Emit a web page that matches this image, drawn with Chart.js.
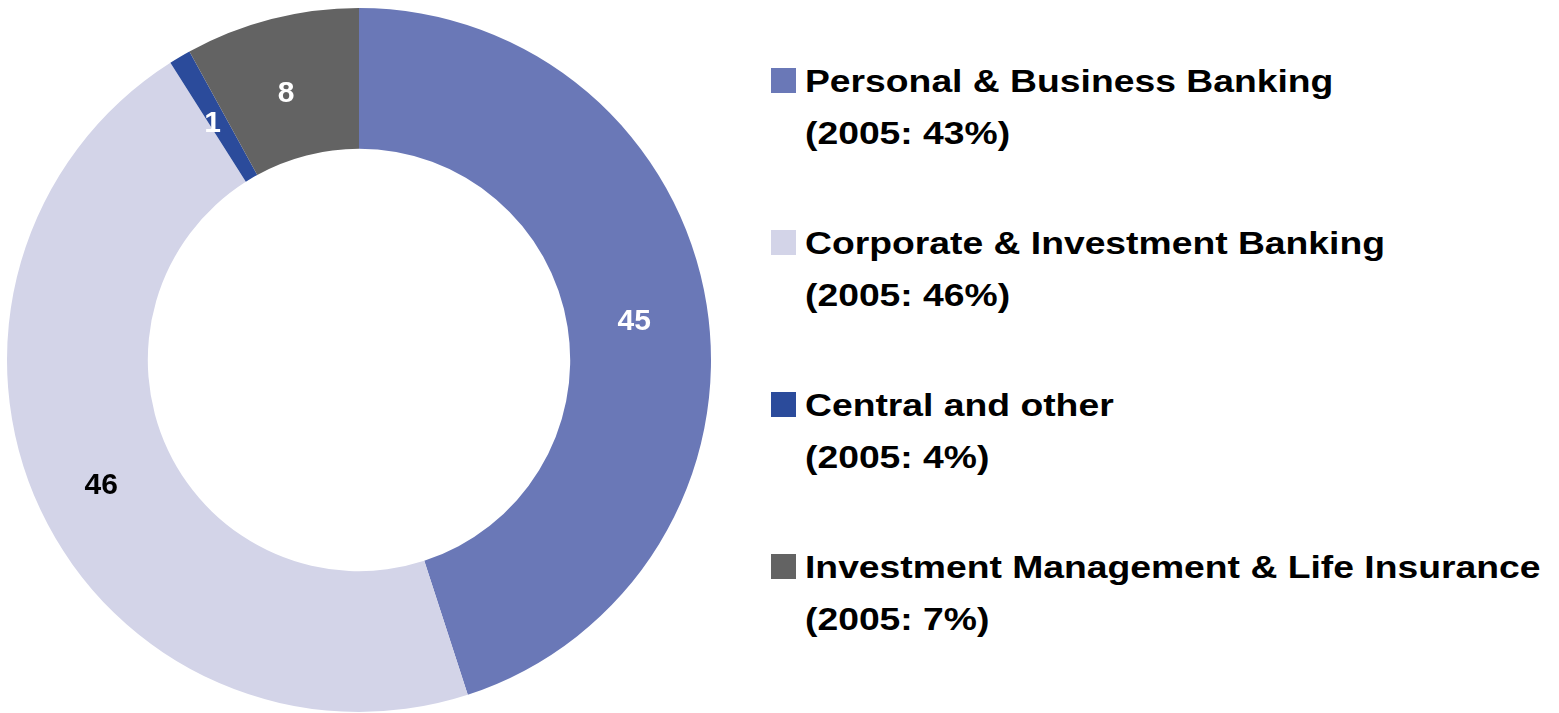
<!DOCTYPE html>
<html>
<head>
<meta charset="utf-8">
<script src="https://cdn.jsdelivr.net/npm/chart.js@4/dist/chart.umd.min.js"></script>
<style>
  body { margin: 0; background: #fff; width: 1559px; height: 713px; overflow: hidden; position: relative; }
  #wrap { position: absolute; left: 0; top: 0; width: 718px; height: 713px; }
  #legend { position: absolute; left: 771px; top: 55px; font: bold 32px "Liberation Sans", Arial, sans-serif; color: #000; }
  .item { position: relative; height: 162px; padding-left: 34px; line-height: 52px; white-space: nowrap; }
  .txt { display: inline-block; transform: scaleX(1.165); transform-origin: left top; }
  .box { position: absolute; left: 0; top: 13px; width: 25px; height: 25px; }
</style>
</head>
<body>
<div id="wrap"><canvas id="pie"></canvas></div>
<div id="legend"></div>
<script>
const categories = ["Personal & Business Banking", "Corporate & Investment Banking", "Central and other", "Investment Management & Life Insurance"];
const values = [45, 46, 1, 8];
const prior = ["(2005: 43%)", "(2005: 46%)", "(2005: 4%)", "(2005: 7%)"];
const colors = ["#6a78b7", "#d3d4e8", "#2b4b9b", "#636363"];
const labelColors = ["#fff", "#000", "#fff", "#fff"];

// legend on the right
const legend = document.getElementById("legend");
categories.forEach((c, i) => {
  const d = document.createElement("div");
  d.className = "item";
  d.innerHTML = `<span class="box" style="background:${colors[i]}"></span><span class="txt">${c}<br>${prior[i]}</span>`;
  legend.appendChild(d);
});

// value labels on the slices
const sliceLabels = {
  id: "sliceLabels",
  afterDatasetsDraw(chart) {
    const ctx = chart.ctx;
    const meta = chart.getDatasetMeta(0);
    ctx.save();
    ctx.font = "bold 30px 'Liberation Sans', Arial, sans-serif";
    ctx.textAlign = "center";
    ctx.textBaseline = "middle";
    meta.data.forEach((arc, i) => {
      const p = arc.tooltipPosition();
      ctx.fillStyle = labelColors[i];
      ctx.fillText(String(values[i]), p.x - 3, p.y + 6);
    });
    ctx.restore();
  }
};

new Chart(document.getElementById("pie"), {
  type: "doughnut",
  data: {
    labels: categories,
    datasets: [{
      data: values,
      backgroundColor: colors,
      borderWidth: 0
    }]
  },
  options: {
    responsive: true,
    maintainAspectRatio: false,
    animation: false,
    cutout: "60%",
    layout: { padding: { top: 8, bottom: 1 } },
    plugins: {
      legend: { display: false },
      tooltip: { enabled: false }
    }
  },
  plugins: [sliceLabels]
});
</script>
</body>
</html>
